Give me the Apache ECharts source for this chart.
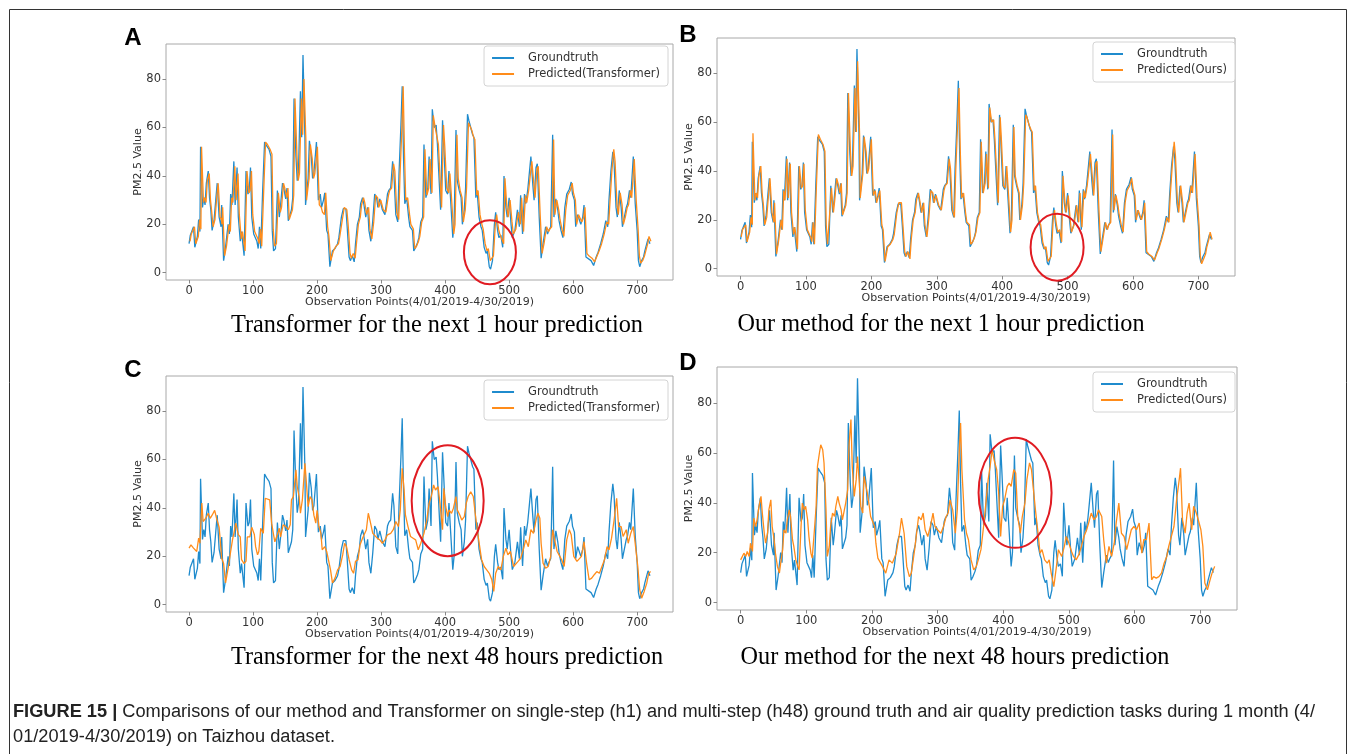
<!DOCTYPE html>
<html><head><meta charset="utf-8">
<script src="https://cdn.jsdelivr.net/npm/echarts@6/dist/echarts.min.js"></script>
<style>html,body{margin:0;padding:0;background:#fff;}#c{width:1355px;height:754px;}</style>
</head><body><div id="c"></div>
<script>
// ---------------- DATA ----------------
const xTicks = [0, 100, 200, 300, 400, 500, 600, 700];
const yTicks = [0, 20, 40, 60, 80];
const panelLetters = ['A', 'B', 'C', 'D'];
const subtitles = [
  'Transformer for the next 1 hour prediction',
  'Our method for the next 1 hour prediction',
  'Transformer for the next 48 hours prediction',
  'Our method for the next 48 hours prediction'
];
const seriesNames = [
  ['Groundtruth', 'Predicted(Transformer)'],
  ['Groundtruth', 'Predicted(Ours)'],
  ['Groundtruth', 'Predicted(Transformer)'],
  ['Groundtruth', 'Predicted(Ours)']
];
const xAxisTitle = 'Observation Points(4/01/2019-4/30/2019)';
const yAxisTitle = 'PM2.5 Value';
const captionBold = 'FIGURE 15 |';
const captionLine1 = ' Comparisons of our method and Transformer on single-step (h1) and multi-step (h48) ground truth and air quality prediction tasks during 1 month (4/';
const captionLine2 = '01/2019-4/30/2019) on Taizhou dataset.';
// highlighted regions (data coords: observation point, PM2.5)
const circledRegions = [[470, 8.5], [484, 8.8], [404, 43], [418, 44]];

const groundtruth = [[0,12],[2,15.5],[5,16],[7,19],[9,10.5],[13,15],[15,22],[17,17],[18,52],[21,27],[23,31],[25,28],[27,37],[30,42],[32,31],[34,26],[36,17.5],[39,21.5],[42,31],[44,37],[47,23],[49,23],[50,19],[51,28],[54,5],[57,10.5],[61,20],[63,16],[65,32.5],[67,28],[70,46],[72,28],[75,43.5],[77,23],[80,13],[82,17],[86,7],[89,42],[92,32.5],[94,34],[96,43.5],[98,23],[101,16],[106,13],[108,10],[110,19],[112,10],[115,34],[118,54],[121,52.5],[125,51],[128,48],[130,17.5],[132,9],[135,10],[138,34],[141,23],[143,28],[146,37],[148,35],[151,30.5],[153,35],[155,21.5],[158,21.5],[160,26],[162,31],[164,72],[167,48],[169,38],[171,42],[174,75],[176,56],[178,90],[181,56],[182,28],[186,39],[188,54.5],[191,48],[193,39],[195,41],[199,54],[202,30],[205,32.5],[207,27],[210,30],[212,33],[215,17.5],[217,16],[220,2.5],[224,9],[228,10],[232,12],[234,14.5],[238,23],[241,26.5],[245,26.5],[247,19],[250,6.5],[252,5],[255,7],[258,4.5],[260,12],[263,20],[266,23],[268,28.5],[271,31],[273,28.5],[276,23],[279,27],[281,17.5],[284,13],[287,21.5],[290,32.5],[293,31],[295,27],[298,30.5],[302,26],[306,24],[310,32.5],[312,34],[315,35],[318,46],[320,41],[323,24],[326,21],[328,41],[331,61],[333,77],[335,48],[337,28.5],[340,31],[343,23],[345,19],[349,17.5],[351,9],[354,10.5],[357,12.5],[359,14.5],[362,21],[365,23],[367,53],[370,31],[373,35],[375,48],[378,32.5],[380,67.5],[383,60],[386,61],[388,53],[391,36.5],[393,26],[396,63],[398,52],[401,34],[404,32.5],[406,42],[409,28.5],[412,14.5],[414,20],[417,59],[419,38],[422,34],[425,31],[427,20],[430,26],[432,35],[435,65.5],[437,63],[440,60],[443,57],[445,56],[448,31],[450,34],[453,23],[456,19],[458,17.5],[461,10.5],[464,8],[466,9],[469,2.5],[471,1.5],[474,5],[477,20],[479,25],[482,17.5],[484,14.5],[487,15.5],[490,10.5],[492,40],[495,27],[497,23],[500,31],[503,20],[505,14.5],[509,17.5],[513,26],[516,19],[518,32],[521,16],[524,32.5],[526,28.5],[529,34],[531,39.5],[534,48],[537,36.5],[539,30],[542,43.5],[544,45],[547,23],[550,6],[553,12],[557,19],[560,16],[562,17.5],[565,19],[568,57],[570,23],[573,30.5],[576,26],[578,21.5],[581,17.5],[584,14.5],[587,27],[590,32.5],[594,34.5],[597,37.5],[599,32.5],[602,30],[604,19],[607,24],[610,24],[612,20],[615,23],[617,28],[620,6.5],[623,6],[628,5],[632,3],[636,6.5],[639,8.5],[643,12],[647,16],[651,21.5],[654,19],[656,30],[659,42],[662,50],[664,45],[667,27],[669,23],[672,34],[675,27],[677,19],[680,23],[683,27],[685,28.5],[688,34],[690,31],[694,48],[697,28.5],[700,17.5],[702,5],[704,2.5],[707,5],[710,6.5],[712,9],[715,12],[717,14],[720,12]];

const predTransformer1h = [[1.5,13],[3.5,16],[6.5,16.5],[8.5,19],[10.5,12],[14.5,15],[16.5,22],[18.5,18],[19.5,52],[22.5,29],[24.5,31],[26.5,29],[28.5,38],[31.5,41],[33.5,30],[35.5,25],[37.5,19],[40.5,22],[43.5,32],[45.5,37],[48.5,23],[50.5,22],[51.5,20],[52.5,27],[55.5,7],[58.5,11],[62.5,20],[64.5,17],[66.5,31],[68.5,29],[71.5,44],[73.5,30],[76.5,41],[78.5,24],[81.5,14],[83.5,17],[87.5,9],[90.5,42],[93.5,33],[95.5,34],[97.5,42],[99.5,24],[102.5,17],[107.5,14],[109.5,12],[111.5,18],[113.5,11],[116.5,33],[119.5,54],[122.5,53],[126.5,51],[129.5,49],[131.5,18],[133.5,11],[136.5,12],[139.5,33],[142.5,25],[144.5,27],[147.5,37],[149.5,35],[152.5,31],[154.5,35],[156.5,22],[159.5,22],[161.5,26],[163.5,32],[165.5,72],[168.5,49],[170.5,38],[172.5,41],[175.5,72],[177.5,57],[179.5,80],[182.5,55],[183.5,30],[187.5,39],[189.5,53],[192.5,47],[194.5,39],[196.5,41],[200.5,52],[203.5,28],[206.5,27],[208.5,25],[211.5,24],[213.5,33],[216.5,19],[218.5,15],[221.5,5],[225.5,9],[229.5,11],[233.5,12],[235.5,15],[239.5,22],[242.5,27],[246.5,26],[248.5,20],[251.5,8],[253.5,6],[256.5,8],[259.5,6],[261.5,12],[264.5,20],[267.5,23],[269.5,28],[272.5,31],[274.5,29],[277.5,24],[280.5,27],[282.5,18],[285.5,14],[288.5,21],[291.5,32],[294.5,31],[296.5,27],[299.5,30],[303.5,26],[307.5,25],[311.5,32],[313.5,34],[316.5,35],[319.5,45],[321.5,42],[324.5,25],[327.5,22],[329.5,40],[332.5,60],[334.5,77],[336.5,50],[338.5,30],[341.5,31],[344.5,24],[346.5,20],[350.5,18],[352.5,10],[355.5,11],[358.5,13],[360.5,15],[363.5,21],[366.5,23],[368.5,51],[371.5,32],[374.5,35],[376.5,47],[379.5,33],[381.5,65],[384.5,60],[387.5,60],[389.5,53],[392.5,37],[394.5,27],[397.5,61],[399.5,52],[402.5,35],[405.5,33],[407.5,41],[410.5,29],[413.5,16],[415.5,20],[418.5,57],[420.5,39],[423.5,34],[426.5,31],[428.5,21],[431.5,26],[433.5,35],[436.5,62],[438.5,62],[441.5,59],[444.5,56],[446.5,55],[449.5,32],[451.5,34],[454.5,24],[457.5,20],[459.5,18],[462.5,12],[465.5,9],[467.5,10],[470.5,5],[472.5,4.5],[475.5,7],[478.5,20],[480.5,24],[483.5,18],[485.5,16],[488.5,16],[491.5,12],[493.5,39],[496.5,27],[498.5,23],[501.5,30],[504.5,21],[506.5,16],[510.5,18],[514.5,25],[517.5,20],[519.5,31],[522.5,17],[525.5,32],[527.5,29],[530.5,34],[532.5,39],[535.5,46],[538.5,37],[540.5,31],[543.5,43],[545.5,44],[548.5,24],[551.5,8],[554.5,12],[558.5,19],[561.5,17],[563.5,18],[566.5,19],[569.5,55],[571.5,24],[574.5,30],[577.5,26],[579.5,22],[582.5,18],[585.5,15],[588.5,26],[591.5,32],[595.5,34],[598.5,37],[600.5,33],[603.5,30],[605.5,20],[608.5,24],[611.5,24],[613.5,21],[616.5,23],[618.5,27],[621.5,8],[624.5,7],[629.5,6],[633.5,4.5],[637.5,7],[640.5,9],[644.5,12],[648.5,16],[652.5,21],[655.5,20],[657.5,29],[660.5,42],[663.5,51],[665.5,46],[668.5,28],[670.5,24],[673.5,33],[676.5,28],[678.5,20],[681.5,23],[684.5,27],[686.5,28],[689.5,34],[691.5,31],[695.5,47],[698.5,30],[701.5,18],[703.5,7],[705.5,4],[708.5,5],[711.5,7],[713.5,9],[716.5,12],[718.5,15],[721.5,13]];

const predOurs1h = [[1,13],[3,16],[6,16],[8,18],[10,11],[14,15],[16,21],[18,18],[19,55.5],[22,28],[24,31],[26,29],[28,38],[31,42],[33,31],[35,26],[37,18],[40,21],[43,31],[45,37],[48,23],[50,23],[51,19],[52,27],[55,6],[58,11],[62,20],[64,16],[66,32],[68,28],[71,45],[73,29],[76,43],[78,23],[81,14],[83,17],[87,8],[90,42],[93,33],[95,34],[97,43],[99,24],[102,16],[107,13],[109,11],[111,19],[113,10],[116,34],[119,55],[122,53],[126,51],[129,48],[131,18],[133,10],[136,10],[139,33],[142,23],[144,28],[147,37],[149,35],[152,31],[154,35],[156,22],[159,22],[161,26],[163,31],[165,72],[168,48],[170,38],[172,42],[175,74],[177,56],[179,85],[182,55],[183,29],[187,39],[189,54],[192,48],[194,39],[196,41],[200,53],[203,30],[206,32],[208,27],[211,30],[213,32],[216,18],[218,16],[221,3],[225,9],[229,10],[233,12],[235,14],[239,23],[242,27],[246,27],[248,19],[251,7],[253,5],[256,7],[259,4],[261,12],[264,20],[267,23],[269,28],[272,31],[274,28],[277,23],[280,27],[282,18],[285,13],[288,21],[291,32],[294,31],[296,27],[299,30],[303,26],[307,24],[311,32],[313,34],[316,35],[319,45],[321,41],[324,24],[327,21],[329,40],[332,60],[334,74],[336,48],[338,29],[341,31],[344,23],[346,19],[350,18],[352,10],[355,11],[358,13],[360,15],[363,21],[366,23],[368,52],[371,31],[374,35],[376,47],[379,33],[381,66],[384,60],[387,61],[389,53],[392,37],[394,27],[397,62],[399,52],[402,34],[405,33],[407,42],[410,29],[413,15],[415,20],[418,58],[420,38],[423,34],[426,31],[428,20],[431,26],[433,35],[436,63],[438,62],[441,59],[444,57],[446,56],[449,32],[451,34],[454,23],[457,19],[459,18],[462,11],[465,8],[467,9],[470,3],[472,2.5],[475,5],[478,20],[480,24],[483,18],[485,15],[488,16],[491,11],[493,38],[496,27],[498,23],[501,30],[504,20],[506,15],[510,18],[514,26],[517,19],[519,31],[522,17],[525,32],[527,29],[530,34],[532,39],[535,47],[538,37],[540,30],[543,43],[545,44],[548,24],[551,7],[554,12],[558,19],[561,16],[563,18],[566,19],[569,55],[571,24],[574,30],[577,26],[579,22],[582,18],[585,15],[588,27],[591,32],[595,34],[598,37],[600,33],[603,30],[605,20],[608,24],[611,24],[613,20],[616,23],[618,27],[621,7],[624,6],[629,5],[633,3.5],[637,6.5],[640,8.5],[644,12],[648,16],[652,21],[655,19],[657,30],[660,42],[663,52],[665,46],[668,27],[670,23],[673,34],[676,27],[678,19],[681,23],[684,27],[686,28],[689,34],[691,31],[695,47],[698,29],[701,18],[703,5],[705,2],[708,4],[711,6],[713,9],[716,12],[718,15],[721,12]];

const predTransformer48h = [[0,23.4],[3,24.7],[7,23.4],[9,24],[12,22],[15,27.5],[17,25.4],[20,42],[22,34.4],[26,35.7],[30,37.8],[33,35.7],[36,37],[40,39],[43,35.7],[47,32],[51,19.2],[54,17],[57,9],[61,15],[65,22],[68,27],[70,29.5],[73,33.7],[77,29],[80,28],[82,18.6],[86,17],[89,18],[91,28],[95,28],[98,32],[102,29],[104,24],[107,20.6],[109,22],[112,31.6],[116,29.5],[119,44],[122,44],[126,43.3],[129,33.7],[132,29],[134,26],[138,29],[141,31.6],[143,28],[147,33],[151,32.3],[155,31],[158,33],[160,43.3],[163,44.7],[167,55.7],[169,48.8],[172,44.7],[174,37.8],[177,43.3],[181,58.4],[183,51.5],[186,40.5],[189,44.7],[192,43.3],[195,37],[198,33.7],[200,39],[203,32.3],[206,29.5],[208,22.7],[212,24],[215,22],[219,17],[221,14.4],[224,9],[228,11],[232,14.4],[236,15.8],[240,20.6],[243,25.4],[246,24],[250,18.6],[254,14.4],[257,13],[260,17.9],[264,18.6],[267,24.7],[271,27.5],[273,26.8],[277,31],[280,37.8],[283,34.4],[287,29.5],[290,29.5],[294,27.5],[298,26.8],[302,25.4],[306,26.8],[310,28.9],[315,29.5],[319,31],[323,34.4],[327,32.3],[330,39.2],[333,56.4],[336,47.4],[338,37.1],[342,32.3],[346,28.2],[350,27.5],[354,26.8],[358,22.7],[362,25.4],[367,29.5],[371,34.4],[375,41.9],[379,45.4],[382,49.5],[385,47.4],[389,48.8],[392,41.9],[396,31],[398,48.1],[401,40.5],[404,36.4],[406,39.2],[410,37.8],[413,39.9],[417,44.7],[419,39.2],[423,37.1],[426,35],[430,36.4],[433,41.9],[436,44.7],[440,46.7],[444,44.7],[447,37.8],[451,29.5],[454,24],[457,18.6],[461,15.8],[465,14.4],[469,13],[473,10.3],[476,5.5],[479,13],[483,15.8],[487,14.4],[491,20],[495,23.4],[498,20.6],[502,22],[507,15.8],[510,16.5],[514,17.9],[518,19.2],[522,22.7],[526,26.8],[530,24],[534,31],[538,29.5],[542,35],[545,37.8],[548,35.7],[550,25.4],[553,17.2],[557,15.1],[561,15.8],[565,20],[568,31],[571,26.8],[575,22],[578,20.6],[582,18.6],[586,15.8],[590,26.8],[594,31],[597,28.9],[601,20],[606,17.9],[609,18.6],[613,20],[617,26.1],[621,17.2],[625,10.3],[629,11],[633,12.4],[637,13.7],[641,13],[645,15.8],[649,18.6],[653,24],[656,22.7],[660,27.5],[664,35],[668,44],[671,32.3],[675,32.3],[678,28.2],[683,31],[686,25.4],[690,29.5],[694,32.3],[697,33],[701,15.8],[704,6.2],[707,2.7],[711,5.5],[715,8.9],[718,13],[721,13.7]];

const predOurs48h = [[0,17.1],[3,17.8],[5,19.8],[8,18.5],[10,20.5],[13,18.5],[15,23.8],[18,20.5],[20,33.9],[23,30.5],[25,33.2],[28,38.6],[31,42.6],[33,35.9],[36,27.8],[38,23.8],[41,27.8],[43,37.2],[46,41.2],[48,30.5],[51,25.2],[53,19.8],[56,14.5],[59,11.8],[61,15.8],[64,21.2],[66,29.2],[69,27.8],[71,33.2],[74,37.2],[76,34.5],[79,25.2],[81,22.5],[84,17.1],[87,14.5],[89,13.1],[92,30.5],[94,39.9],[97,37.2],[99,38.6],[102,33.2],[104,26.5],[107,19.8],[109,17.8],[112,27.8],[115,38.6],[117,54.6],[120,60],[122,63.3],[125,61.3],[127,56],[130,37.2],[132,18.5],[135,22.5],[137,30.5],[140,35.9],[143,34.5],[145,38.6],[148,42.6],[150,39.9],[153,37.2],[155,33.2],[158,33.2],[160,39.9],[163,45.2],[165,62.6],[168,73.4],[170,54.6],[173,42.6],[176,49.3],[178,58.6],[181,58.6],[183,38.6],[186,35.9],[188,50.6],[191,46.6],[193,43.9],[196,38.6],[198,34.5],[201,34.5],[204,30.5],[206,23.8],[209,17.8],[211,18.5],[216,14.5],[221,11.8],[226,17.1],[231,15.8],[237,19.8],[242,27.8],[245,33.9],[249,27.8],[253,14.5],[257,10.4],[260,11.8],[265,21.2],[268,27.8],[271,34.5],[275,33.2],[278,35.9],[281,29.2],[285,26.5],[289,30.5],[293,35.9],[296,30.5],[300,29.2],[305,27.8],[309,30.5],[313,34.5],[316,35.9],[319,41.2],[323,37.2],[327,27.8],[330,37.2],[333,60.6],[335,72],[337,53.3],[341,33.2],[344,27.8],[347,25.2],[351,17.1],[355,13.1],[359,14.5],[362,17.1],[366,21.2],[370,30.5],[374,41.2],[377,49.3],[380,54.6],[383,61.3],[386,57.3],[390,53.3],[393,43.9],[396,26.5],[399,38.6],[402,41.2],[406,46.6],[409,47.9],[412,46.6],[416,53.3],[419,51.9],[422,34.5],[426,27.8],[429,34.5],[433,39.9],[436,49.3],[440,56],[443,53.3],[446,45.2],[449,37.2],[453,27.8],[456,19.8],[459,21.2],[463,17.1],[467,15.8],[470,17.1],[473,11.8],[477,6.4],[481,14.5],[484,21.2],[489,18.5],[493,22.5],[496,26.5],[500,23.8],[504,20.5],[507,18.5],[511,17.1],[515,19.1],[519,22.5],[523,26.5],[527,29.2],[530,31.9],[534,35.9],[538,33.2],[542,34.5],[545,37.2],[550,34.5],[553,25.2],[557,15.8],[561,22.5],[565,18.5],[569,23.8],[572,31.9],[576,39.9],[580,27.8],[584,26.5],[588,21.2],[591,21.2],[595,29.2],[599,30.5],[603,29.2],[607,31.9],[611,19.8],[614,25.2],[618,25.2],[622,31.9],[626,9.1],[629,10.4],[633,9.8],[637,10.4],[641,11.8],[645,15.8],[649,18.5],[652,22.5],[656,26.5],[660,30.5],[664,41.2],[668,49.3],[670,53.9],[673,33.2],[677,27.8],[680,35.9],[683,39.9],[687,29.2],[690,38.6],[694,35.9],[697,33.2],[701,29.2],[704,22.5],[707,7.8],[711,5.1],[715,9.1],[718,11.8],[722,14.5]];

const predictions = [predTransformer1h, predOurs1h, predTransformer48h, predOurs48h];

// ---------------- LAYOUT / STYLE ----------------
const BLUE = '#1f8bcd', ORANGE = '#ff8c1a';
const grids = [
  {left: 166, top: 44, width: 507, height: 236},
  {left: 717, top: 38, width: 518, height: 238},
  {left: 166, top: 376, width: 507, height: 236},
  {left: 717, top: 367, width: 520, height: 243}
];
const legendPos = [{right: 687, top: 46}, {right: 120, top: 42}, {right: 687, top: 380}, {right: 120, top: 372}];
const letterPos = [[133, 38], [688, 35], [133, 370], [688, 363]];
const subtitlePos = [[437, 325], [941, 324], [447, 657], [955, 657]];
const subtitleWidths = [412, 407, 432, 429];
const ellipseRadii = [[26, 32], [26.5, 33.5], [36, 55.5], [36.5, 55]];
const SANS = 'DejaVu Sans';

const chart = echarts.init(document.getElementById('c'), null, {renderer: 'canvas'});

const xAxes = [], yAxes = [], series = [], legends = [];
for (let i = 0; i < 4; i++) {
  xAxes.push({
    gridIndex: i, type: 'value', min: -36, max: 756,
    name: xAxisTitle, nameLocation: 'middle', nameGap: 17, nameMoveOverlap: false,
    nameTextStyle: {fontFamily: SANS, fontSize: 11, color: '#333'},
    axisLine: {show: false, onZero: false},
    axisTick: {show: true, length: 3.5, lineStyle: {color: '#888'}, customValues: xTicks},
    axisLabel: {fontFamily: SANS, fontSize: 11.5, color: '#333', margin: 5, customValues: xTicks},
    splitLine: {show: false}
  });
  yAxes.push({
    gridIndex: i, type: 'value', min: -3, max: 94.5,
    name: yAxisTitle, nameLocation: 'middle', nameGap: 22, nameRotate: 90, nameMoveOverlap: false,
    nameTextStyle: {fontFamily: SANS, fontSize: 11, color: '#333'},
    axisLine: {show: false, onZero: false},
    axisTick: {show: true, length: 3.5, lineStyle: {color: '#888'}, customValues: yTicks},
    axisLabel: {fontFamily: SANS, fontSize: 11.5, color: '#333', margin: 5, customValues: yTicks},
    splitLine: {show: false}
  });
  series.push({
    type: 'line', name: seriesNames[i][0], xAxisIndex: i, yAxisIndex: i,
    data: groundtruth, showSymbol: false, symbol: 'none', animation: false,
    lineStyle: {width: 1.3, color: BLUE}, itemStyle: {color: BLUE}
  });
  series.push({
    type: 'line', name: seriesNames[i][1], xAxisIndex: i, yAxisIndex: i,
    data: predictions[i], showSymbol: false, symbol: 'none', animation: false,
    lineStyle: {width: 1.3, color: ORANGE}, itemStyle: {color: ORANGE}
  });
  legends.push(Object.assign({
    data: seriesNames[i], orient: 'vertical', selectedMode: false,
    backgroundColor: 'rgba(255,255,255,0.9)', borderColor: '#d4d4d4', borderWidth: 1, borderRadius: 3,
    padding: [6, 8, 6, 8], itemGap: 4, itemWidth: 22, itemHeight: 2, icon: 'rect',
    textStyle: {fontFamily: SANS, fontSize: 11.5, color: '#333', padding: [0, 0, 0, 9]}
  }, legendPos[i]));
}

const gridOpts = grids.map(g => Object.assign({show: true, borderColor: '#a8a8a8', borderWidth: 1, backgroundColor: 'transparent'}, g));

chart.setOption({
  animation: false,
  backgroundColor: '#fff',
  grid: gridOpts, xAxis: xAxes, yAxis: yAxes, series: series, legend: legends
});

// ---------------- GRAPHICS ----------------
const measureCtx = document.createElement('canvas').getContext('2d');
function textWidth(str, font) { measureCtx.font = font; return measureCtx.measureText(str).width; }

const graphics = [];
graphics.push({type: 'rect', shape: {x: 9.5, y: 9.5, width: 1337, height: 760}, style: {fill: 'none', stroke: '#333', lineWidth: 1}, silent: true});
const subFont = '26px "Liberation Serif"';
for (let i = 0; i < 4; i++) {
  graphics.push({type: 'text', x: letterPos[i][0], y: letterPos[i][1],
    style: {text: panelLetters[i], font: 'bold 24px "Liberation Sans"', fill: '#000', textAlign: 'center', textVerticalAlign: 'middle'}});
  graphics.push({type: 'text', x: subtitlePos[i][0], y: subtitlePos[i][1],
    scaleX: subtitleWidths[i] / textWidth(subtitles[i], subFont),
    style: {text: subtitles[i], font: subFont, fill: '#000', textAlign: 'center', textVerticalAlign: 'middle'}});
  const c = chart.convertToPixel({gridIndex: i}, circledRegions[i]);
  graphics.push({type: 'ellipse', shape: {cx: c[0], cy: c[1], rx: ellipseRadii[i][0], ry: ellipseRadii[i][1]},
    style: {fill: 'none', stroke: '#e01b22', lineWidth: 2}, z: 100, silent: true});
}
const capFontB = 'bold 18px "Liberation Sans"', capFont = '18px "Liberation Sans"';
const w1 = textWidth(captionBold, capFontB) + textWidth(captionLine1, capFont);
const sx = 1302 / w1;
graphics.push({type: 'text', x: 13, y: 712, scaleX: sx,
  style: {text: '{b|' + captionBold + '}' + captionLine1, font: capFont, fill: '#222', textVerticalAlign: 'middle',
    rich: {b: {fontWeight: 'bold', fontFamily: 'Liberation Sans', fontSize: 18, fill: '#222'}}}});
graphics.push({type: 'text', x: 13, y: 737, scaleX: sx,
  style: {text: captionLine2, font: capFont, fill: '#222', textVerticalAlign: 'middle'}});

chart.setOption({graphic: graphics});
</script></body></html>
